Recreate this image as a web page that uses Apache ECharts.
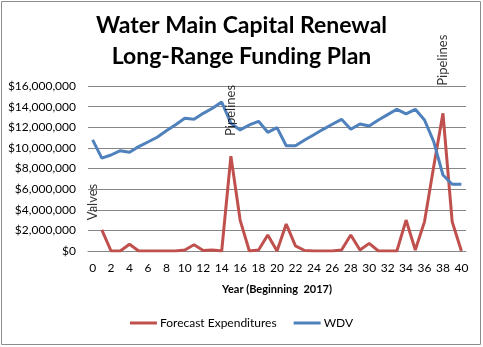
<!DOCTYPE html>
<html>
<head>
<meta charset="utf-8">
<script src="https://cdn.jsdelivr.net/npm/echarts@6/dist/echarts.min.js"></script>
<style>
  html, body { margin: 0; padding: 0; background: #fff; }
  #chart { width: 483px; height: 347px; }
</style>
</head>
<body>
<div id="chart"></div>
<script>
// Year offsets from 2017
var years = ['0','1','2','3','4','5','6','7','8','9','10','11','12','13','14','15','16','17','18','19','20',
             '21','22','23','24','25','26','27','28','29','30','31','32','33','34','35','36','37','38','39','40'];

// Forecast capital expenditures per year ($)
var expenditures = [null, 2050000, 0, 0, 650000, 0, 0, 0, 0, 0, 100000, 600000, 50000, 100000, 0,
                    9200000, 3000000, 0, 100000, 1550000, 0, 2620000, 500000, 50000, 0, 0, 0, 100000,
                    1550000, 100000, 740000, 0, 0, 0, 3000000, 100000, 2850000, 8200000, 13350000, 2850000, 0];

// Written-down value of the water main network ($)
var wdv = [10770000, 9000000, 9310000, 9730000, 9570000, 10120000, 10570000, 11030000, 11660000, 12250000,
           12870000, 12770000, 13350000, 13840000, 14450000, 12380000, 11740000, 12220000, 12580000, 11510000,
           11960000, 10210000, 10210000, 10760000, 11280000, 11800000, 12290000, 12770000, 11800000, 12320000,
           12120000, 12700000, 13220000, 13740000, 13290000, 13740000, 12700000, 10600000, 7370000, 6470000, 6470000];

// Asset-class notes shown at their renewal years
var noteYears = ['0', '15', '38'];
var noteValues = [4750000, 13630000, 18500000];
var noteTexts = ['Valves', 'Pipelines', 'Pipelines'];

var yTicks = { min: 0, max: 16000000, interval: 2000000 };

var font = 'Lato, "Open Sans", sans-serif';

function money(v) {
  return '$' + v.toString().replace(/\B(?=(\d{3})+(?!\d))/g, ',');
}

var notes = noteYears.map(function (y, i) {
  return { value: [y, noteValues[i]], name: noteTexts[i] };
});

var chart = echarts.init(document.getElementById('chart'), null, { renderer: 'canvas' });
chart.setOption({
  animation: false,
  backgroundColor: '#ffffff',
  textStyle: { fontFamily: font },
  title: {
    text: 'Water Main Capital Renewal\nLong-Range Funding Plan',
    left: 'center',
    top: 5,
    textStyle: { fontFamily: font, fontSize: 23, fontWeight: 'bold', color: '#000', lineHeight: 31 }
  },
  graphic: [{
    type: 'rect',
    shape: { x: 1.5, y: 1.5, width: 479, height: 343 },
    style: { fill: null, stroke: '#8c8c8c', lineWidth: 1 },
    silent: true
  }],
  legend: {
    bottom: 13,
    left: 'center',
    itemGap: 17,
    itemWidth: 27,
    itemHeight: 3,
    icon: 'rect',
    data: ['Forecast Expenditures', 'WDV'],
    textStyle: { fontFamily: font, fontSize: 12, color: '#000', padding: [0, 0, 0, -2] }
  },
  grid: { left: 88, right: 17, top: 86, bottom: 96, containLabel: false },
  xAxis: {
    type: 'category',
    data: years,
    boundaryGap: true,
    name: 'Year (Beginning  2017)',
    nameLocation: 'middle',
    nameGap: 33,
    nameTextStyle: { fontFamily: font, fontSize: 11, fontWeight: 'bold', color: '#000' },
    axisLine: { lineStyle: { color: '#868686', width: 1 } },
    axisTick: { show: false },
    axisLabel: { interval: 1, fontSize: 12, color: '#000', margin: 11, fontFamily: font }
  },
  yAxis: {
    type: 'value',
    min: yTicks.min,
    max: yTicks.max,
    interval: yTicks.interval,
    axisLine: { show: false },
    axisTick: { show: false },
    splitLine: { lineStyle: { color: '#868686', width: 1 } },
    axisLabel: { formatter: money, fontSize: 12, color: '#000', margin: 12, fontFamily: font }
  },
  series: [
    {
      name: 'Forecast Expenditures',
      type: 'line',
      data: expenditures,
      showSymbol: false,
      symbol: 'none',
      color: '#C0504D',
      lineStyle: { width: 3, color: '#C0504D' },
      z: 2
    },
    {
      name: 'WDV',
      type: 'line',
      data: wdv,
      showSymbol: false,
      symbol: 'none',
      color: '#4F81BD',
      lineStyle: { width: 3, color: '#4F81BD' },
      z: 3
    },
    {
      name: 'notes',
      type: 'scatter',
      data: notes,
      symbolSize: 0,
      clip: false,
      silent: true,
      z: 4,
      label: {
        show: true,
        position: 'inside',
        rotate: 90,
        align: 'center',
        verticalAlign: 'middle',
        formatter: function (p) { return p.name; },
        fontFamily: font,
        fontSize: 13,
        color: '#000'
      }
    }
  ]
});
</script>
</body>
</html>
